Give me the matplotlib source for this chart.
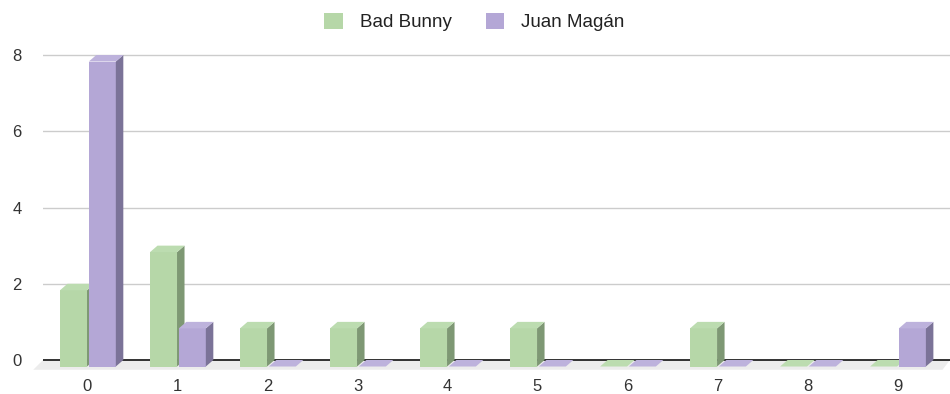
import numpy as np
import matplotlib
matplotlib.use('Agg')
import matplotlib.pyplot as plt
from matplotlib.patches import Polygon, Patch

plt.rcParams['font.family'] = ['Liberation Sans', 'DejaVu Sans']

# counts per category
categories = ['0', '1', '2', '3', '4', '5', '6', '7', '8', '9']
bad_bunny = [2, 3, 1, 1, 1, 1, 0, 1, 0, 0]
juan_magan = [8, 1, 0, 0, 0, 0, 0, 0, 0, 1]
series_names = ['Bad Bunny', 'Juan Magán']

# front / top / side shades for each series
green = ('#b6d7a8', '#bcdcb0', '#7e9874')
purple = ('#b4a7d6', '#bdb2dc', '#7b7398')

W, H, DPI = 950, 394, 100
fig = plt.figure(figsize=(W / DPI, H / DPI), dpi=DPI)

x_lo, x_hi = -0.494, 9.583
y_lo, y_hi = -0.3, 8.4
ax = fig.add_axes([43 / W, 0.05726, 907 / W, 0.8418])
ax.set_xlim(x_lo, x_hi)
ax.set_ylim(y_lo, y_hi)

# depth of the fake 3d effect, converted from pixels to data units
px_x = 907 / (x_hi - x_lo)
px_y = 0.8418 * H / (y_hi - y_lo)
dx = 7.5 / px_x
dy = 6.5 / px_y

for s in ax.spines.values():
    s.set_visible(False)

for g in [2, 4, 6, 8]:
    ax.axhline(g, color='#cccccc', lw=1, zorder=1)

# grey floor under the bars
floor = Polygon([(x_lo, 0), (x_hi, 0), (x_hi - dx, -dy * 1.5), (x_lo - dx * 1.3, -dy * 1.5)],
                closed=True, facecolor='#ececec', edgecolor='none', zorder=1, clip_on=False)
ax.add_patch(floor)
ax.axhline(0, color='#222222', lw=1.3, zorder=2)


def bar3d(ax, xl, w, v, shades, z):
    front, top, side = shades
    xr = xl + w
    if v > 0:
        ax.add_patch(Polygon([(xl, -dy), (xr, -dy), (xr, v - dy), (xl, v - dy)],
                             closed=True, facecolor=front, edgecolor='none', zorder=z))
        ax.add_patch(Polygon([(xr, -dy), (xr + dx, 0), (xr + dx, v), (xr, v - dy)],
                             closed=True, facecolor=side, edgecolor='none', zorder=z))
    ax.add_patch(Polygon([(xl, v - dy), (xr, v - dy), (xr + dx, v), (xl + dx, v)],
                         closed=True, facecolor=top, edgecolor='none', zorder=z))


bar_w = 0.3
for i in range(len(categories)):
    bar3d(ax, i - 0.305, bar_w, bad_bunny[i], green, 3 + 2 * i)
    bar3d(ax, i + 0.015, bar_w, juan_magan[i], purple, 4 + 2 * i)

ax.set_xticks(range(len(categories)))
ax.set_xticklabels(categories)
ax.set_yticks([0, 2, 4, 6, 8])
ax.tick_params(axis='both', length=0, labelsize=12, labelcolor='#333333')
ax.tick_params(axis='y', pad=15.5)
ax.tick_params(axis='x', pad=5.5)

handles = [Patch(facecolor=green[0], edgecolor='none'),
           Patch(facecolor=purple[0], edgecolor='none')]
fig.legend(handles, series_names, loc='center', bbox_to_anchor=(0.4995, 0.944),
           ncol=2, frameon=False, fontsize=13.5, handlelength=1.0, handleheight=1.0,
           columnspacing=1.8, handletextpad=0.9, labelcolor='#222222')

fig.savefig('out.png', dpi=DPI, facecolor='white')
